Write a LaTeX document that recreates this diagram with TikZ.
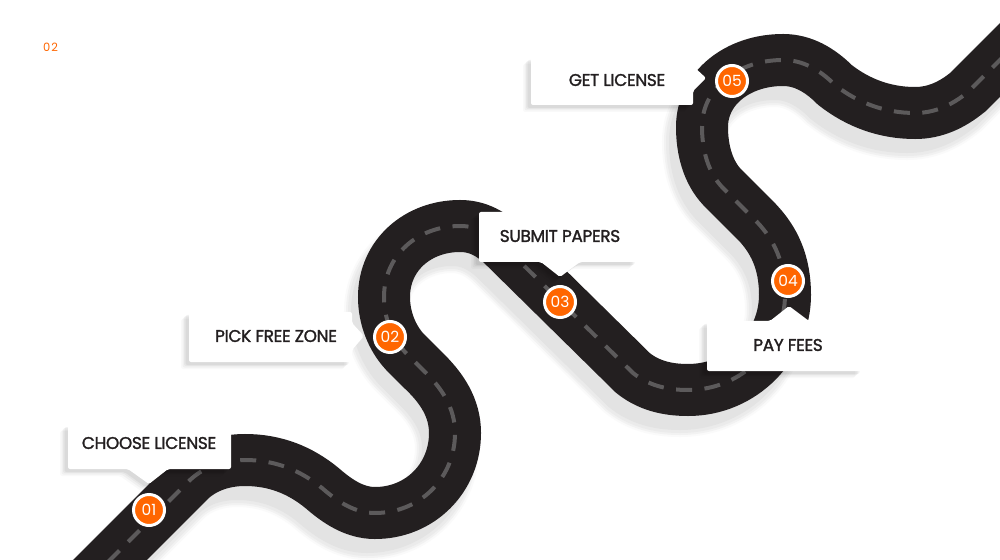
\documentclass[tikz,border=0pt]{standalone}
\usepackage{fontspec}
\setmainfont{Open Sans}
\newfontfamily\lblfont[FakeBold=1.6,LetterSpace=-2]{Poppins}
\newfontfamily\numfont{Poppins}
\newfontfamily\pgfont[LetterSpace=8]{Poppins}
\definecolor{roadc}{HTML}{231F20}
\definecolor{dashc}{HTML}{5C5A5B}
\definecolor{orangec}{HTML}{FF6600}
\newcommand{\roadpath}{(72,598) -- (190,480)
 .. controls (205,466) and (225,460) .. (245,460)
 .. controls (275,460) and (300,470) .. (322,488)
 .. controls (338,502) and (355,513) .. (375,513)
 .. controls (420,513) and (455,478) .. (455,433)
 .. controls (455,408) and (442,388) .. (423,370)
 -- (405,352)
 .. controls (392,338) and (384,318) .. (384,297)
 .. controls (384,255) and (418,226) .. (460,226)
 .. controls (478,226) and (492,234) .. (505,247)
 -- (633,373)
 .. controls (648,385) and (666,390) .. (688,390)
 .. controls (743,390) and (785,345) .. (785,295)
 .. controls (785,262) and (774,240) .. (757,222)
 -- (722,187)
 .. controls (708,172) and (702,150) .. (702,127)
 .. controls (702,88) and (738,60) .. (783,60)
 .. controls (803,60) and (820,70) .. (835,85)
 .. controls (858,103) and (885,113) .. (915,113)
 .. controls (935,113) and (952,105) .. (968,92)
 -- (1035,25)}
\newcommand{\callout}[1]{%
 \fill[black,opacity=.025,rounded corners=2,shift={(-8,7)}] #1;
 \fill[black,opacity=.035,rounded corners=2,shift={(-6.5,5.5)}] #1;
 \fill[black,opacity=.04,rounded corners=2,shift={(-5,4)}] #1;
 \fill[black,opacity=.05,rounded corners=2,shift={(-3.5,3)}] #1;
 \fill[white,rounded corners=2] #1;}
\tikzset{
 lbl/.style={text=roadc,font=\fontsize{17}{18}\lblfont,inner sep=0pt},
 numdot/.style={circle,fill=orangec,draw=white,line width=3pt,minimum size=31bp,inner sep=0pt,text=white,font=\fontsize{15.5}{16}\numfont}
}
\begin{document}
\begin{tikzpicture}[x=1bp,y=-1bp]
\useasboundingbox (0,0) rectangle (1000,560);
\clip (0,0) rectangle (1000,560);
\fill[white] (0,0) rectangle (1000,560);
\begin{scope}[shift={(-8,15)}]
 \draw[line width=64bp,color=black!2] \roadpath;
 \draw[line width=60bp,color=black!5] \roadpath;
 \draw[line width=56bp,color=black!8] \roadpath;
 \draw[line width=50bp,color=black!11] \roadpath;
\end{scope}
\draw[line width=52bp,color=roadc] \roadpath;
\draw[line width=4bp,color=dashc,dash pattern=on 16bp off 12.5bp,dash phase=6bp] \roadpath;
\callout{(68,424) -- (231,424) -- (231,469) -- (168,469) -- (149,484) -- (128,469) -- (68,469) -- cycle}
\callout{(189,312) -- (352,312) -- (352,323) -- (364,336) -- (352,350) -- (352,362) -- (189,362) -- cycle}
\callout{(479,212) -- (638,212) -- (638,262) -- (580,262) -- (560,277) -- (541,262) -- (479,262) -- cycle}
\callout{(707,321) -- (770,321) -- (789,306) -- (809,321) -- (863,321) -- (863,371) -- (707,371) -- cycle}
\callout{(531,57) -- (693,57) -- (693,66) -- (706,78) -- (693,91) -- (693,105) -- (531,105) -- cycle}
\node[lbl] (t1) at (149,443) {CHOOSE LICENSE};
\node[lbl] (t2) at (276,336) {PICK FREE ZONE};
\node[lbl] (t3) at (560,236) {SUBMIT PAPERS};
\node[lbl] (t4) at (788,345) {PAY FEES};
\node[lbl] (t5) at (617,80) {GET LICENSE};
\node[numdot] (n1) at (149,510) {01};
\node[numdot] (n2) at (390,337) {02};
\node[numdot] (n3) at (560,302) {03};
\node[numdot] (n4) at (788,281) {04};
\node[numdot] (n5) at (732,81) {05};
\node[text=orangec,font=\fontsize{11.5}{12}\pgfont,inner sep=0pt] (pg) at (50.5,47) {02};
\end{tikzpicture}
\end{document}
